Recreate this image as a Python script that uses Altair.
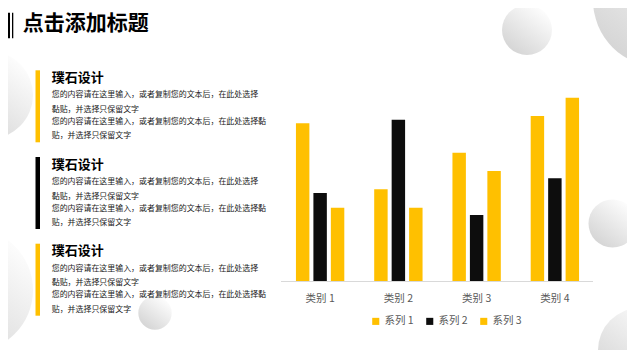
import altair as alt
import pandas as pd

FONT = "Noto Sans CJK SC"
YELLOW = "#FFC000"
BLACK = "#0D0D0D"

# ---- chart data ----
categories = ["类别 1", "类别 2", "类别 3", "类别 4"]
series_names = ["系列 1", "系列 2", "系列 3"]
series_1 = [4.3, 2.5, 3.5, 4.5]
series_2 = [2.4, 4.4, 1.8, 2.8]
series_3 = [2.0, 2.0, 3.0, 5.0]
series_colors = [YELLOW, BLACK, YELLOW]

# ---- slide text ----
slide_title = "点击添加标题"
block_titles = ["璞石设计", "璞石设计", "璞石设计"]
block_colors = [YELLOW, "#000000", YELLOW]
block_lines = [
    "您的内容请在这里输入，或者复制您的文本后，在此处选择",
    "黏贴，并选择只保留文字",
    "您的内容请在这里输入，或者复制您的文本后，在此处选择黏",
    "贴，并选择只保留文字",
]

rows = []
for name, vals in zip(series_names, [series_1, series_2, series_3]):
    for c, v in zip(categories, vals):
        rows.append({"cat": c, "series": name, "value": v})
df = pd.DataFrame(rows)
cat_df = pd.DataFrame({"cat": categories})

ONE = alt.Data(values=[{}])
OFF = 8  # page margin

grad = alt.Gradient(
    gradient="linear",
    stops=[alt.GradientStop(color="#ffffff", offset=0),
           alt.GradientStop(color="#d3d3d3", offset=1)],
    x1=0.85, y1=0.05, x2=0.15, y2=0.95,
)


def circle(cx, cy, r):
    return alt.Chart(ONE).mark_point(
        shape="circle", filled=True, fill=grad, opacity=1, strokeWidth=0,
        size=(2 * r) ** 2,
    ).encode(x=alt.value(cx - OFF), y=alt.value(cy - OFF))


def rect(x1, x2, y1, y2, color):
    return alt.Chart(ONE).mark_rect(color=color).encode(
        x=alt.value(x1 - OFF), x2=alt.value(x2 - OFF),
        y=alt.value(y1 - OFF), y2=alt.value(y2 - OFF))


def txt(s, x, y, size, weight="normal", color="#262626"):
    return alt.Chart(alt.Data(values=[{"t": s}])).mark_text(
        align="left", baseline="middle", font=FONT, fontSize=size,
        fontWeight=weight, color=color,
    ).encode(x=alt.value(x - OFF), y=alt.value(y - OFF), text="t:N")


layers = []
# decorative circles
for cx, cy, r in [(660, 0, 67), (527, 30, 25), (-11, 95, 44), (-29, 290, 62),
                  (612.5, 223.5, 24), (640, 350, 42), (155, 313, 16.7)]:
    layers.append(circle(cx, cy, r))

# slide title
layers.append(rect(0, 10, 12.7, 38.3, "#000000"))
layers.append(rect(12, 13.3, 12.7, 38.3, "#000000"))
layers.append(txt(slide_title, 22.7, 24, 21, "bold", "#000000"))

# text blocks
offsets = [17.5, 32, 44, 58.5]
for i, (t, c) in enumerate(zip(block_titles, block_colors)):
    ty = 77.8 + 86.7 * i
    layers.append(rect(35.5, 40, ty - 7.5, ty + 64.5, c))
    layers.append(txt(t, 51.7, ty, 13, "bold", "#000000"))
    for off, line in zip(offsets, block_lines):
        layers.append(txt(line, 51.7, ty + off, 7.95, color="#1a1a1a"))

# bar chart
x_scale = alt.Scale(range=[281 - OFF, 594 - OFF], paddingInner=0.382, paddingOuter=0.191)
bars = alt.Chart(df).mark_bar().encode(
    x=alt.X("cat:N", scale=x_scale, axis=None, sort=categories),
    xOffset=alt.XOffset("series:N", scale=alt.Scale(paddingInner=0.23), sort=series_names),
    y=alt.Y("value:Q", scale=alt.Scale(domain=[0, 5], range=[281 - OFF, 97.7 - OFF], nice=False), axis=None),
    color=alt.Color(
        "series:N",
        scale=alt.Scale(domain=series_names, range=series_colors),
        legend=alt.Legend(
            title=None, orient="none", direction="horizontal",
            legendX=370.5 - OFF, legendY=316 - OFF, padding=0,
            symbolType="square", symbolSize=50, symbolStrokeWidth=0,
            labelFont=FONT, labelFontSize=10.5, labelColor="#595959",
            labelOffset=3.5, columnPadding=10,
        ),
    ),
)
layers.append(bars)

baseline = alt.Chart(ONE).mark_rule(color="#d9d9d9", strokeWidth=1).encode(
    x=alt.value(281 - OFF), x2=alt.value(593 - OFF), y=alt.value(281.5 - OFF))
layers.append(baseline)

cat_labels = alt.Chart(cat_df).mark_text(
    baseline="middle", font=FONT, fontSize=10.5, color="#595959"
).encode(x=alt.X("cat:N", sort=categories), y=alt.value(299 - OFF), text="cat:N")
layers.append(cat_labels)

chart = alt.layer(*layers).properties(
    width=635 - 2 * OFF, height=358 - 2 * OFF,
    autosize=alt.AutoSizeParams(type="none"), padding=0, background="white",
).configure_view(stroke=None)

chart.save("out.html", embed_options={"renderer": "svg", "actions": False})
